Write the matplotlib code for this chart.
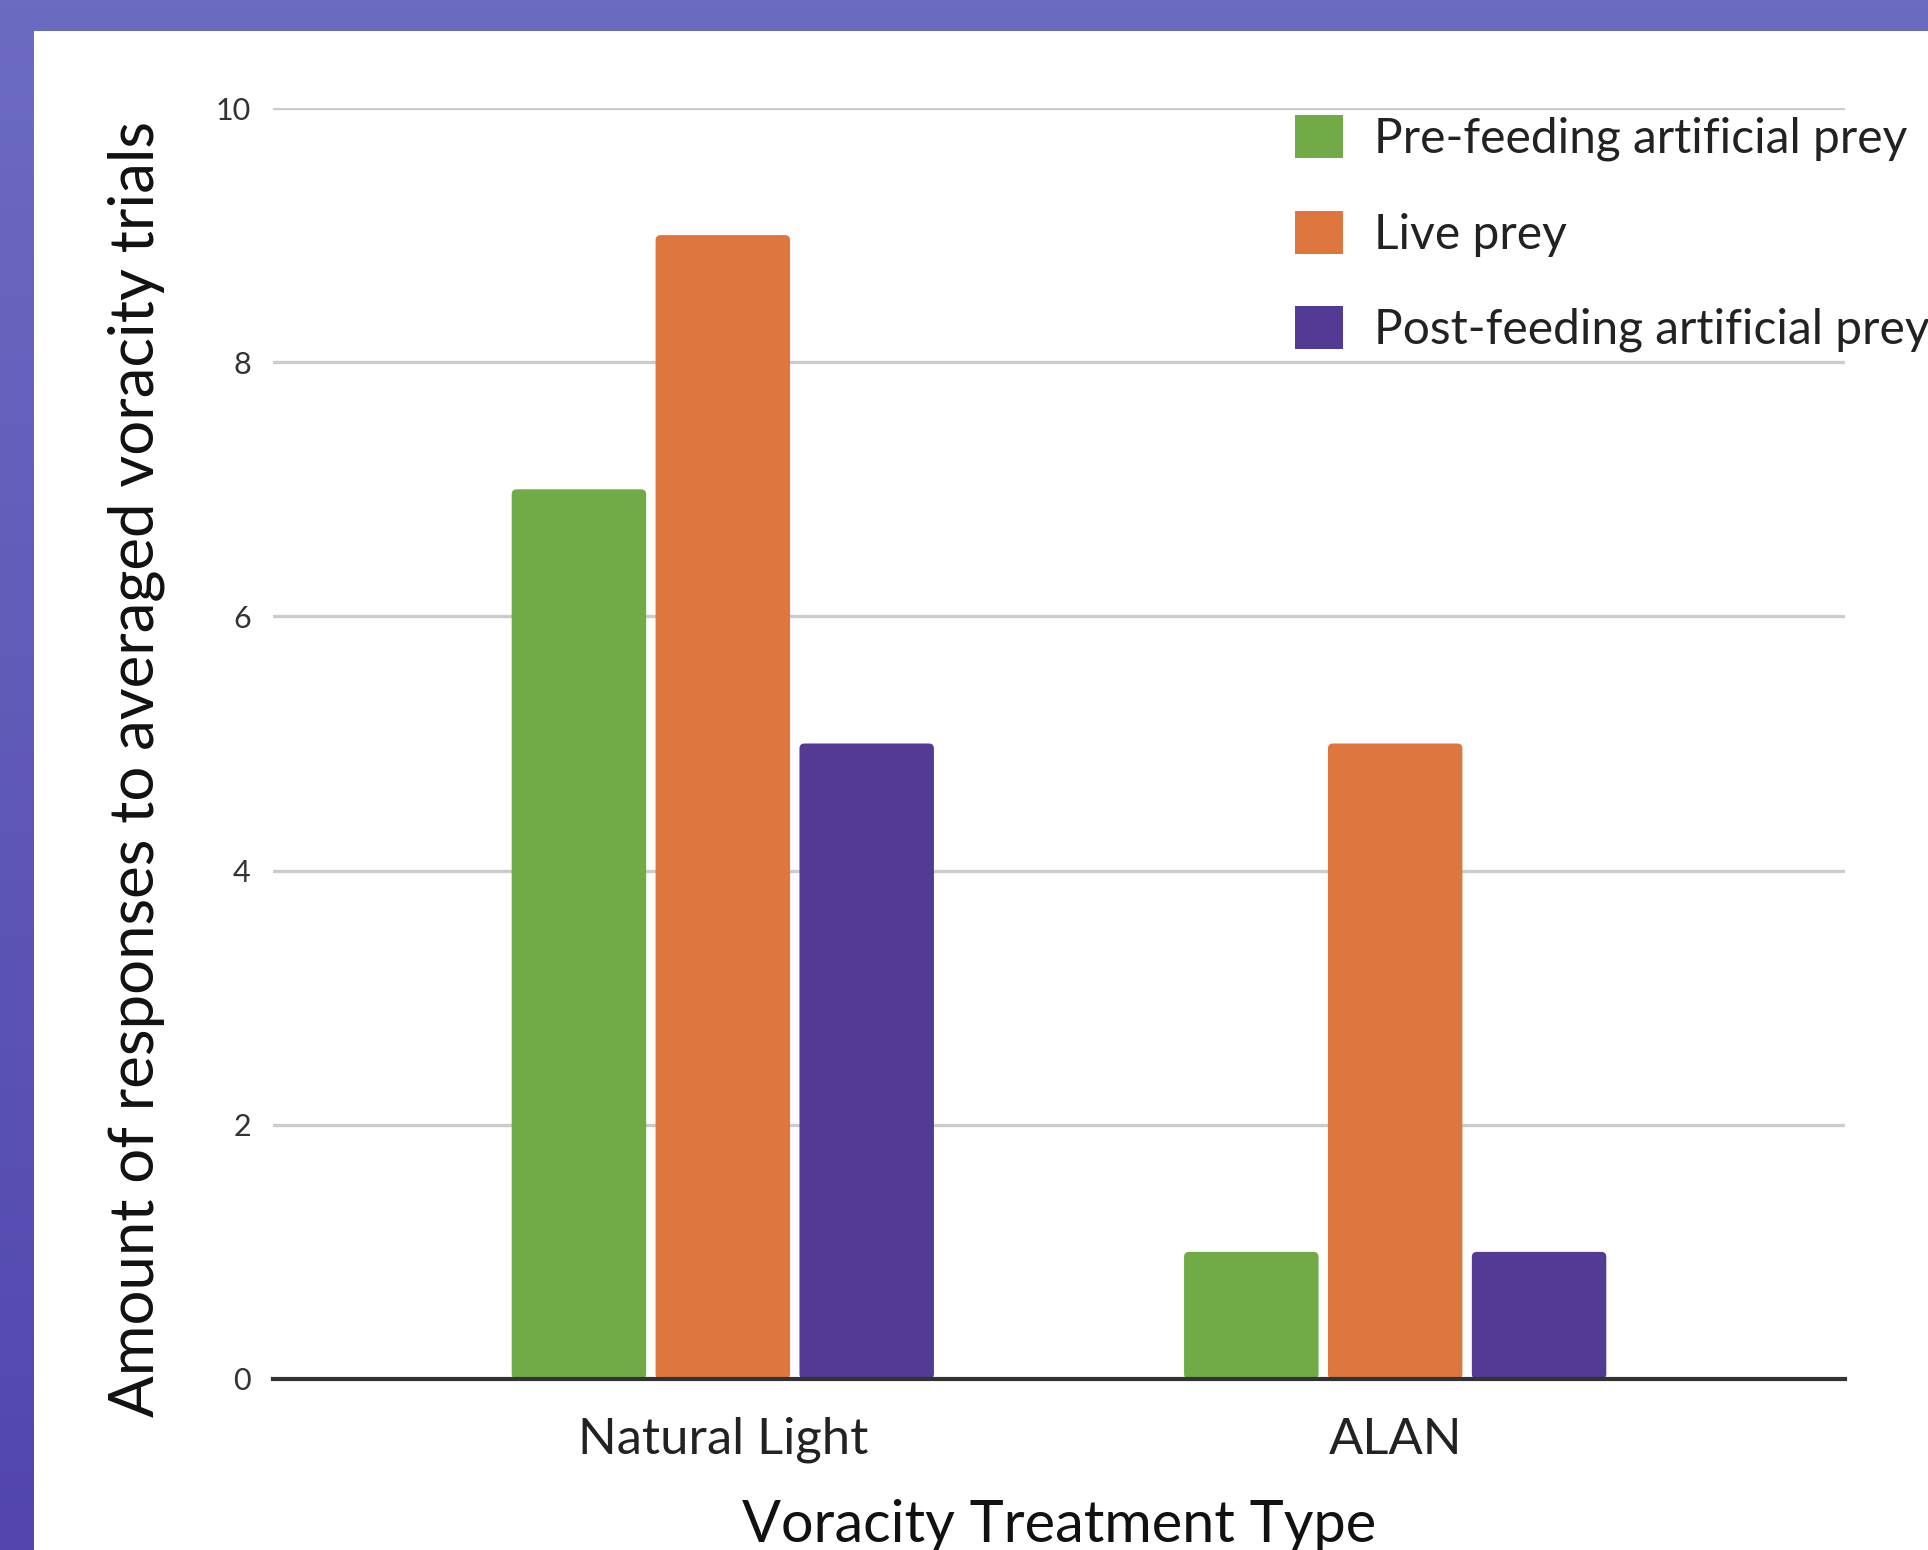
import numpy as np
import matplotlib
matplotlib.use("Agg")
import matplotlib.pyplot as plt
from matplotlib.patches import FancyBboxPatch, Patch

plt.rcParams['font.family'] = ['Lato', 'DejaVu Sans']

# Data
categories = ["Natural Light", "ALAN"]
series_names = ["Pre-feeding artificial prey", "Live prey", "Post-feeding artificial prey"]
pre_feeding = [7, 1]
live_prey = [9, 5]
post_feeding = [5, 1]
y_ticks = [0, 2, 4, 6, 8, 10]

colors = ["#71AB47", "#DE773F", "#533A95"]

W, H = 1928, 1550
fig = plt.figure(figsize=(W / 100, H / 100), dpi=100)

# purple gradient background
bg = fig.add_axes([0, 0, 1, 1], zorder=-10)
gy = np.linspace(0, 1, 200)[:, None]
top = np.array([0x6C, 0x6B, 0xC2]) / 255
bottom = np.array([0x52, 0x46, 0xAE]) / 255
grad = top[None, None, :] * (1 - gy[..., None]) + bottom[None, None, :] * gy[..., None]
grad = np.repeat(grad, 2, axis=1)
bg.imshow(grad, aspect='auto', extent=[0, 1, 0, 1])
bg.set_xlim(0, 1)
bg.set_ylim(0, 1)
bg.axis('off')

# white panel
panel = plt.Rectangle((34 / W, 0), 1 - 34 / W, 1 - 31 / H, transform=fig.transFigure,
                      facecolor='white', edgecolor='none', zorder=-5)
fig.patches.append(panel)

ax_left, ax_right = 273 / W, 1845 / W
ax_bottom, ax_top = 1 - 1379 / H, 1 - 108 / H
ax = fig.add_axes([ax_left, ax_bottom, ax_right - ax_left, ax_top - ax_bottom])
ax.patch.set_alpha(0)

ax.set_xlim(-0.669, 1.669)
ax.set_ylim(0, 10)

x = np.arange(len(categories))
step = 0.214
width = 0.2
# rounded bar tops: radius in x data units, aspect converts to y units
r = 0.0075
aspect = (1572 / 2.338) / (1271 / 10)
for i, (vals, c) in enumerate(zip([pre_feeding, live_prey, post_feeding], colors)):
    bars = ax.bar(x + (i - 1) * step, vals, width, color=c, zorder=3)
    for rect in bars:
        x0, w, h = rect.get_x(), rect.get_width(), rect.get_height()
        rect.remove()
        ax.add_patch(FancyBboxPatch((x0 + r, r * aspect), w - 2 * r, h - 2 * r * aspect,
                                    boxstyle=f"round,pad={r},rounding_size={r}",
                                    mutation_aspect=aspect, facecolor=c, edgecolor='none', zorder=3))

ax.set_yticks(y_ticks)
ax.set_yticklabels([str(t) for t in y_ticks], fontsize=22, color='#333333')
ax.set_xticks(x)
ax.set_xticklabels(categories, fontsize=36.5, color='#222222')
ax.tick_params(axis='y', length=0, pad=16)
ax.tick_params(axis='x', length=0, pad=27)

ax.grid(axis='y', color='#cccccc', linewidth=2.4, zorder=0)
for s in ['top', 'right', 'left']:
    ax.spines[s].set_visible(False)
ax.spines['bottom'].set_color('#333333')
ax.spines['bottom'].set_linewidth(3)
ax.spines['bottom'].set_zorder(4)

ax.set_ylabel("Amount of responses to averaged voracity trials", fontsize=44.5, color='#111111')
ax.yaxis.set_label_coords(-0.069, 0.48)
ax.set_xlabel("Voracity Treatment Type", fontsize=41.5, color='#111111', labelpad=26)

handles = [Patch(facecolor=c, edgecolor='none') for c in colors]
leg = ax.legend(handles, series_names, loc='upper left', bbox_to_anchor=(1295 / W, 1 - 115 / H),
                bbox_transform=fig.transFigure, frameon=False, fontsize=34.5,
                handlelength=1.0, handleheight=1.0, handletextpad=0.65, labelspacing=1.03,
                borderaxespad=0, borderpad=0)
for t in leg.get_texts():
    t.set_color('#222222')

fig.savefig("out.png", dpi=100)
